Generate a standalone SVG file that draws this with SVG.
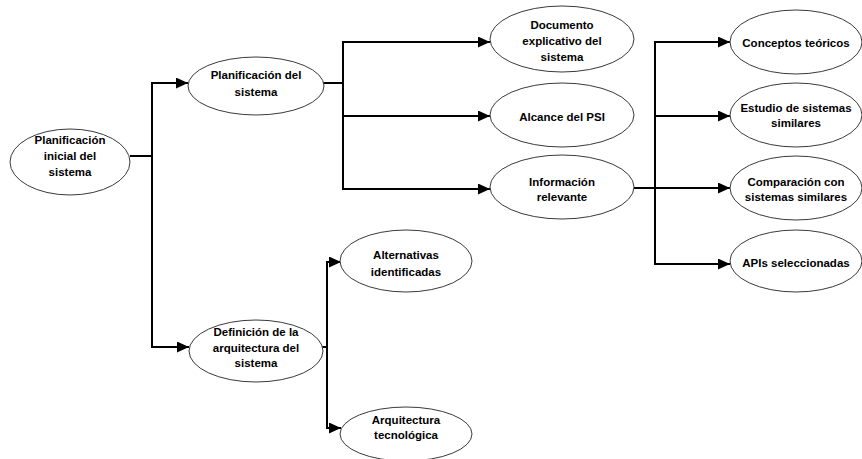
<svg xmlns="http://www.w3.org/2000/svg" width="862" height="459" viewBox="0 0 862 459">
  <style>
    .node ellipse { fill: #ffffff; stroke: #3a3a3a; stroke-width: 1; }
    .node text { font-family: "Liberation Sans", Arial, sans-serif; font-weight: bold; font-size: 11.5px; fill: #000000; text-anchor: middle; }
    .edge { fill: none; stroke: #000000; stroke-width: 2; marker-end: url(#arrow); }
    .trunk { fill: none; stroke: #000000; stroke-width: 2; }
  </style>
  <defs>
    <marker id="arrow" markerUnits="userSpaceOnUse" markerWidth="13" markerHeight="11" refX="12" refY="5.5" orient="auto">
      <path d="M0,0 L12,5.5 L0,11 Z" fill="#000000"/>
    </marker>
  </defs>
  <rect width="862" height="459" fill="#ffffff"/>

  <g id="connectors">
    <path class="trunk" d="M130,156 H152"/>
    <path class="edge" d="M152,156 V83 H188"/>
    <path class="edge" d="M152,156 V347 H189"/>
    <path class="trunk" d="M323,83 H343"/>
    <path class="edge" d="M343,83 V42 H490"/>
    <path class="edge" d="M343,83 V116 H490"/>
    <path class="edge" d="M343,83 V189 H490"/>
    <path class="trunk" d="M634,188 H655"/>
    <path class="edge" d="M655,188 V42 H730"/>
    <path class="edge" d="M655,188 V116 H730"/>
    <path class="edge" d="M655,188 H730"/>
    <path class="edge" d="M655,188 V264 H730"/>
    <path class="trunk" d="M322,347 H327"/>
    <path class="edge" d="M327,347 V262 H341"/>
    <path class="edge" d="M327,347 V428 H341"/>
  </g>

  <g id="planificacion-inicial" class="node">
    <ellipse cx="70" cy="162" rx="60" ry="33"/>
    <text x="70" y="144">Planificación</text>
    <text x="70" y="160">inicial del</text>
    <text x="70" y="176">sistema</text>
  </g>
  <g id="planificacion-sistema" class="node">
    <ellipse cx="256" cy="86" rx="68" ry="29"/>
    <text x="256" y="79">Planificación del</text>
    <text x="256" y="96">sistema</text>
  </g>
  <g id="documento-explicativo" class="node">
    <ellipse cx="562" cy="39" rx="72" ry="33"/>
    <text x="562" y="29">Documento</text>
    <text x="562" y="45">explicativo del</text>
    <text x="562" y="61">sistema</text>
  </g>
  <g id="alcance-psi" class="node">
    <ellipse cx="562" cy="115" rx="72" ry="32"/>
    <text x="562" y="121">Alcance del PSI</text>
  </g>
  <g id="informacion-relevante" class="node">
    <ellipse cx="562" cy="187" rx="72" ry="32"/>
    <text x="562" y="186">Información</text>
    <text x="562" y="201">relevante</text>
  </g>
  <g id="conceptos-teoricos" class="node">
    <ellipse cx="796" cy="42" rx="66" ry="32"/>
    <text x="796" y="47">Conceptos teóricos</text>
  </g>
  <g id="estudio-sistemas" class="node">
    <ellipse cx="796" cy="115" rx="66" ry="32"/>
    <text x="796" y="112">Estudio de sistemas</text>
    <text x="796" y="127">similares</text>
  </g>
  <g id="comparacion-sistemas" class="node">
    <ellipse cx="796" cy="188" rx="66" ry="32"/>
    <text x="796" y="186">Comparación con</text>
    <text x="796" y="201">sistemas similares</text>
  </g>
  <g id="apis-seleccionadas" class="node">
    <ellipse cx="796" cy="261" rx="66" ry="31"/>
    <text x="796" y="267">APIs seleccionadas</text>
  </g>
  <g id="definicion-arquitectura" class="node">
    <ellipse cx="256" cy="351" rx="67" ry="31"/>
    <text x="256" y="336">Definición de la</text>
    <text x="256" y="352">arquitectura del</text>
    <text x="256" y="367">sistema</text>
  </g>
  <g id="alternativas-identificadas" class="node">
    <ellipse cx="406" cy="261" rx="66" ry="31"/>
    <text x="406" y="259">Alternativas</text>
    <text x="406" y="276">identificadas</text>
  </g>
  <g id="arquitectura-tecnologica" class="node">
    <ellipse cx="406" cy="434" rx="66" ry="27"/>
    <text x="406" y="424">Arquitectura</text>
    <text x="406" y="439">tecnológica</text>
  </g>
</svg>
